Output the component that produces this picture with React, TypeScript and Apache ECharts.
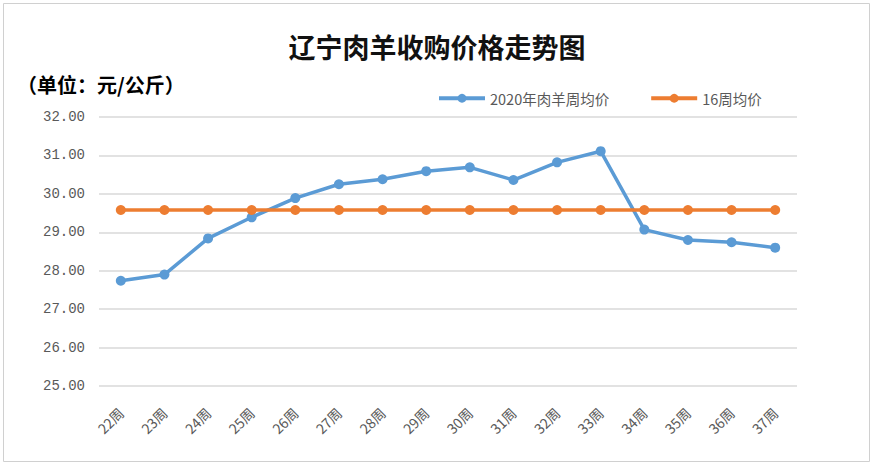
import React, { useEffect, useRef } from "react";
import * as echarts from "echarts";

const weeks = ["22周","23周","24周","25周","26周","27周","28周","29周","30周","31周","32周","33周","34周","35周","36周","37周"];
const price2020 = [27.74, 27.9, 28.84, 29.39, 29.89, 30.25, 30.38, 30.59, 30.69, 30.36, 30.82, 31.11, 29.07, 28.8, 28.74, 28.6];
const avg16 = [29.58, 29.58, 29.58, 29.58, 29.58, 29.58, 29.58, 29.58, 29.58, 29.58, 29.58, 29.58, 29.58, 29.58, 29.58, 29.58];
const seriesNames = ["2020年肉羊周均价", "16周均价"];

export default function App() {
  const ref = useRef<HTMLDivElement>(null);
  useEffect(() => {
    if (!ref.current) return;
    const chart = echarts.init(ref.current, null, { renderer: "svg" });
    chart.setOption({
      animation: false,
      backgroundColor: "#ffffff",
      title: {
        text: "辽宁肉羊收购价格走势图",
        left: "center",
        top: 28,
        textStyle: { fontFamily: "Noto Sans CJK SC", fontSize: 27, fontWeight: "bold", color: "#111111" },
      },
      graphic: [
        {
          type: "rect",
          shape: { x: 3.5, y: 3.5, width: 866, height: 458 },
          style: { fill: "none", stroke: "#d0d0d0", lineWidth: 1 },
          silent: true,
        },
        {
          type: "text",
          left: 17,
          top: 74,
          style: { text: "（单位：元/公斤）", font: "bold 20px 'Noto Sans CJK SC'", fill: "#000000" },
        },
      ],
      legend: {
        data: seriesNames,
        top: 86,
        left: 432,
        itemGap: 40,
        itemWidth: 46,
        itemHeight: 11,
        lineStyle: { width: 4 },
        textStyle: { fontFamily: "Noto Sans CJK SC", fontSize: 14.5, color: "#595959" },
      },
      grid: { left: 99, right: 77, top: 117, bottom: 80, containLabel: false },
      xAxis: {
        type: "category",
        data: weeks,
        boundaryGap: true,
        axisLine: { show: false },
        axisTick: { show: false },
        axisLabel: { rotate: 45, fontFamily: "Noto Sans CJK SC", fontSize: 14, color: "#595959", margin: 24 },
      },
      yAxis: {
        type: "value",
        min: 25,
        max: 32,
        interval: 1,
        axisLine: { show: false },
        axisTick: { show: false },
        axisLabel: {
          formatter: (v: number) => v.toFixed(2),
          fontFamily: "Liberation Mono",
          fontSize: 14,
          color: "#595959",
          margin: 14,
        },
        splitLine: { lineStyle: { color: "#d9d9d9", width: 1.5 } },
      },
      series: [
        {
          name: seriesNames[0],
          type: "line",
          data: price2020,
          symbol: "circle",
          symbolSize: 10,
          lineStyle: { color: "#5B9BD5", width: 3.5 },
          itemStyle: { color: "#5B9BD5" },
        },
        {
          name: seriesNames[1],
          type: "line",
          data: avg16,
          symbol: "circle",
          symbolSize: 10,
          lineStyle: { color: "#ED7D31", width: 3.5 },
          itemStyle: { color: "#ED7D31" },
        },
      ],
    });
    return () => chart.dispose();
  }, []);
  return <div ref={ref} style={{ position: "fixed", left: 0, top: 0, width: 874, height: 466 }} />;
}
